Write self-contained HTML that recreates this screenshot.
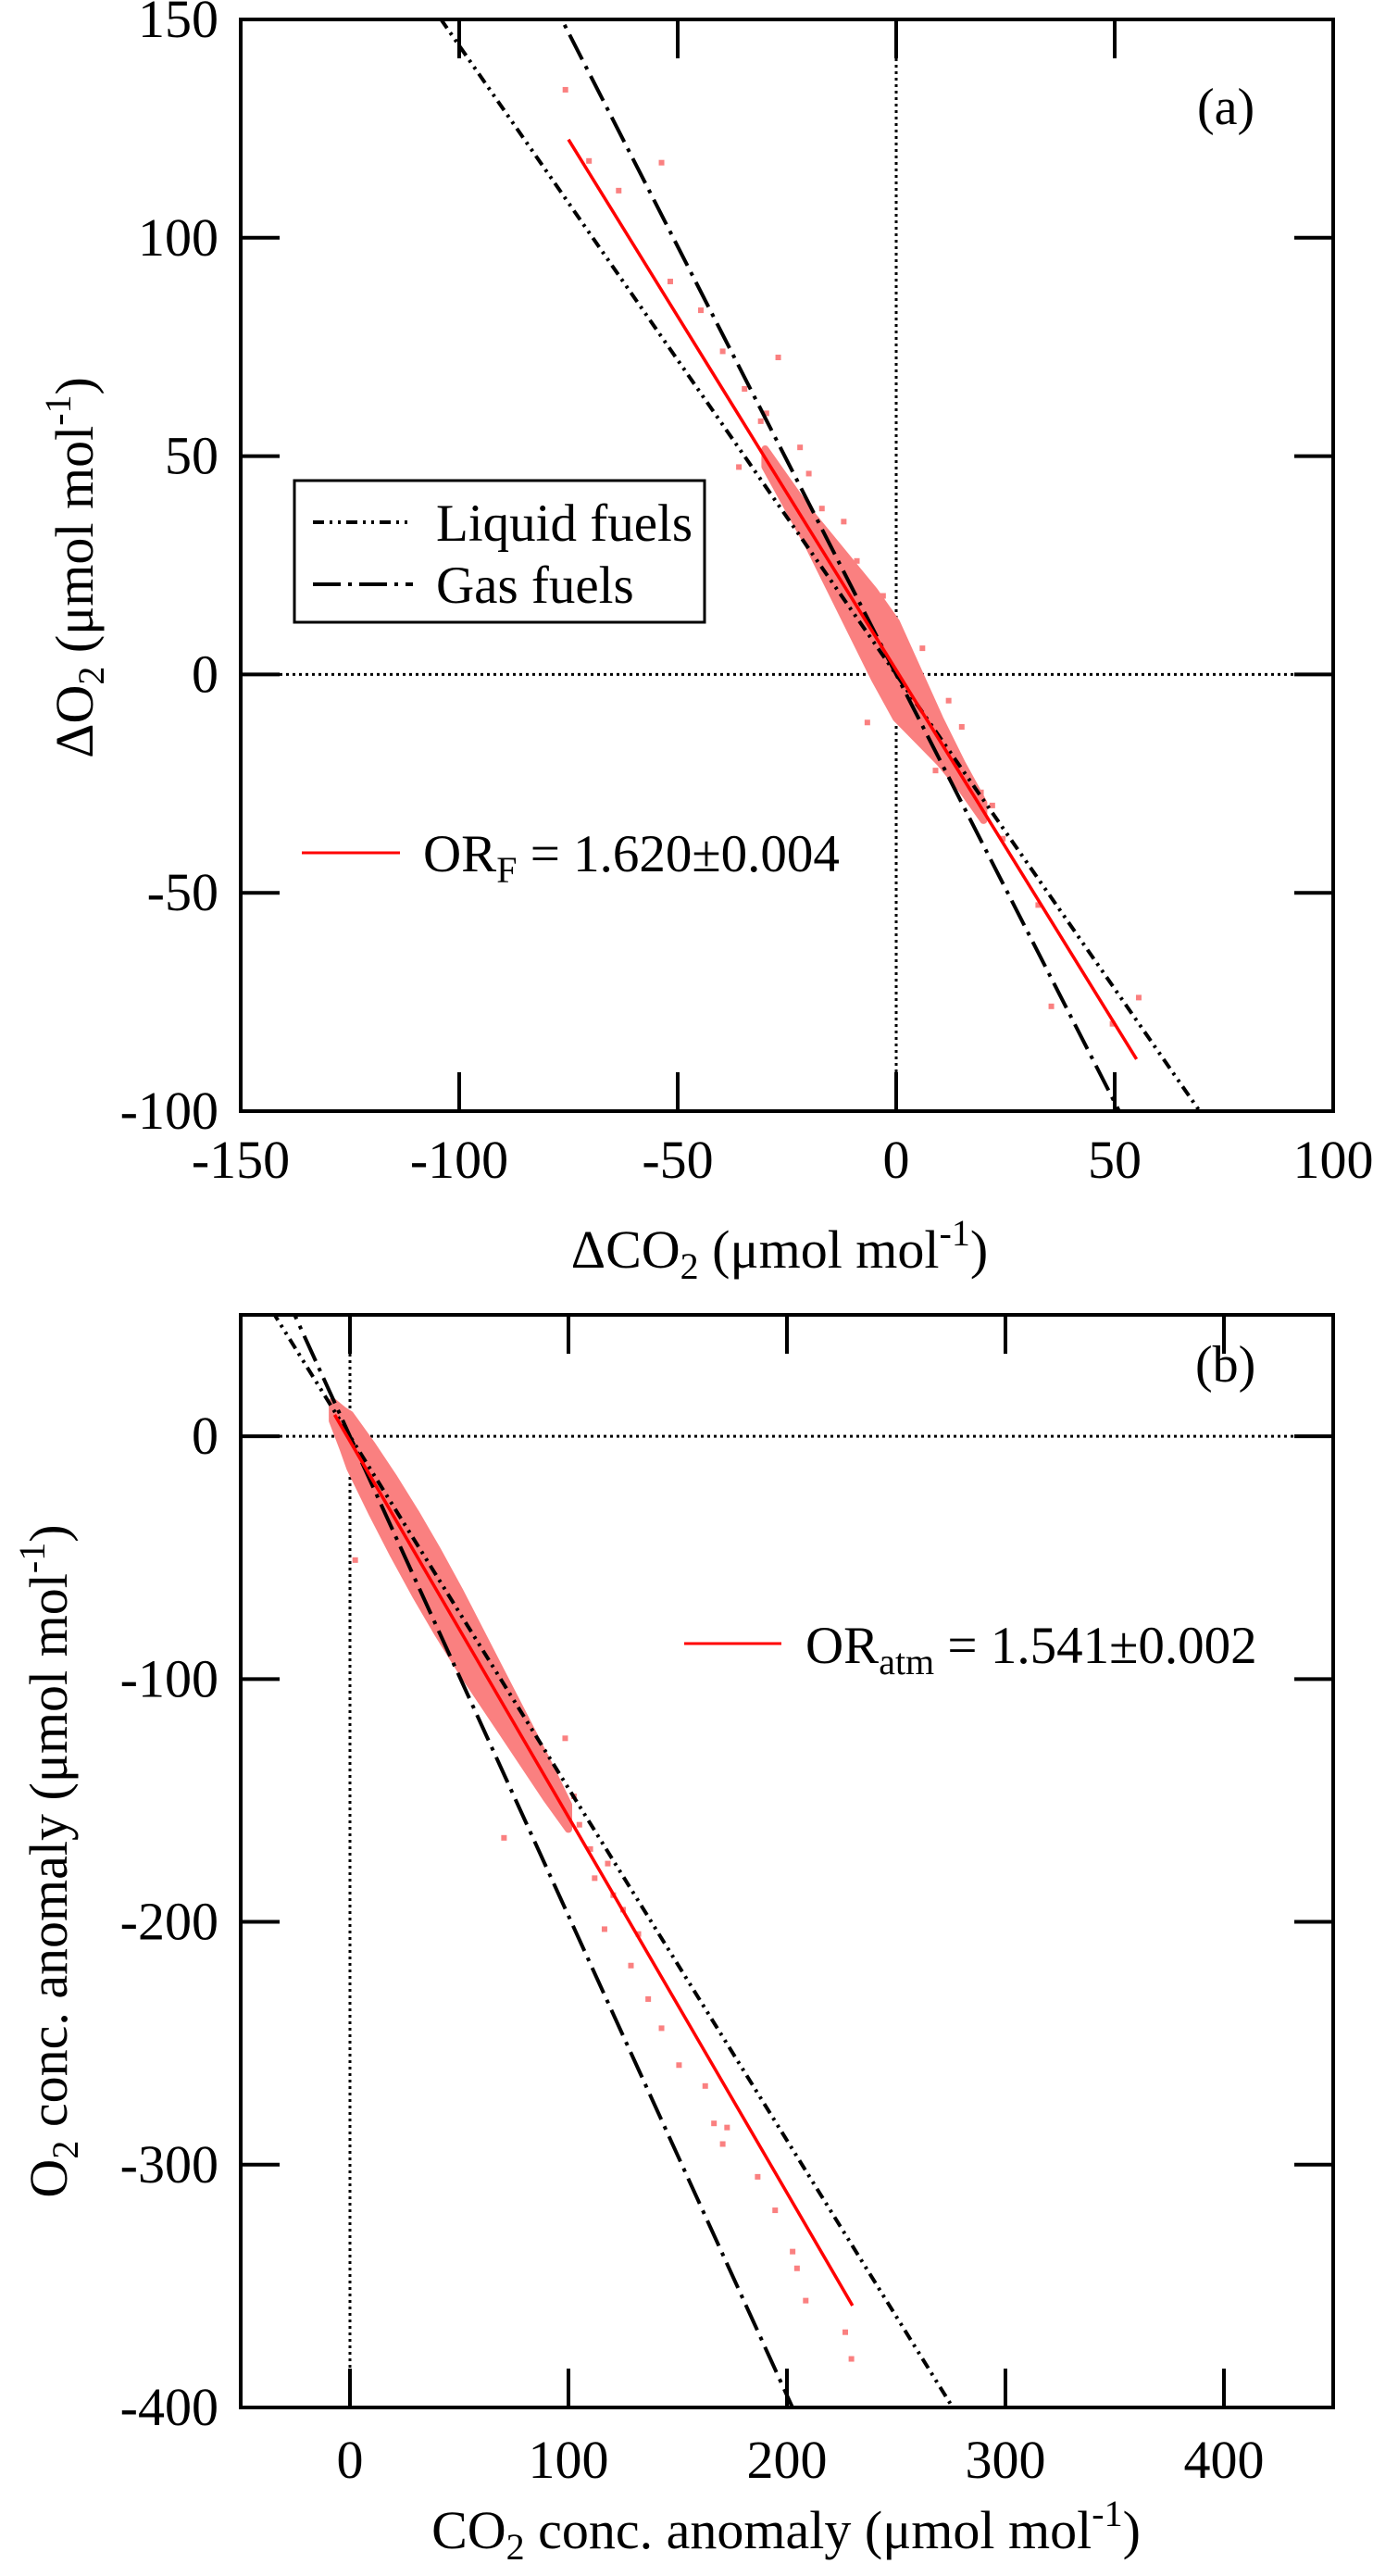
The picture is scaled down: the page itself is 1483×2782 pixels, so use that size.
<!DOCTYPE html>
<html><head><meta charset="utf-8">
<style>
html,body{margin:0;padding:0;background:#fff;overflow:hidden;width:1483px;height:2782px;}
svg{display:block;font-family:"Liberation Serif","DejaVu Serif","Noto Serif CJK SC",serif;}
svg text{font-family:"Liberation Serif","DejaVu Serif","Noto Serif CJK SC",serif;fill:#000;}
</style></head>
<body>
<svg id="fig" width="1483" height="2782" viewBox="0 0 1483 2782" xmlns="http://www.w3.org/2000/svg">
<defs>
<clipPath id="clipA"><rect x="260" y="21" width="1180" height="1179"/></clipPath>
<clipPath id="clipB"><rect x="260" y="1420" width="1180" height="1180"/></clipPath>
</defs>
<g id="panelA"></g>
<g id="panelB"></g>

<text x="1293" y="134" font-size="56">(a)</text>
<text x="842" y="1369" font-size="58" text-anchor="middle">ΔCO<tspan font-size="40" dy="12">2</tspan><tspan dy="-12">  (μmol mol</tspan><tspan font-size="40" dy="-24">-1</tspan><tspan dy="24">)</tspan></text>
<text transform="translate(100,613) rotate(-90)" font-size="58" text-anchor="middle">ΔO<tspan font-size="40" dy="12">2</tspan><tspan dy="-12">  (μmol mol</tspan><tspan font-size="40" dy="-24">-1</tspan><tspan dy="24">)</tspan></text>
<g>
<rect x="318" y="519" width="443" height="153" fill="#fff" stroke="#000" stroke-width="3"/>
<line x1="338" y1="564" x2="446" y2="564" stroke="#000" stroke-width="4" stroke-dasharray="12 6 3 6 3 6"/>
<text x="471" y="584" font-size="57">Liquid fuels</text>
<line x1="338" y1="631" x2="446" y2="631" stroke="#000" stroke-width="4" stroke-dasharray="30 8 4 8"/>
<text x="471" y="651" font-size="57">Gas fuels</text>
</g>
<g>
<line x1="326" y1="921" x2="432" y2="921" stroke="#f00" stroke-width="3"/>
<text x="457" y="941" font-size="57">OR<tspan font-size="40" dy="12">F</tspan><tspan dy="-12"> = 1.620±0.004</tspan></text>
</g>

<text x="1291" y="1492" font-size="56">(b)</text>
<text x="849" y="2752" font-size="58" text-anchor="middle">CO<tspan font-size="40" dy="12">2</tspan><tspan dy="-12"> conc. anomaly  (μmol mol</tspan><tspan font-size="40" dy="-24">-1</tspan><tspan dy="24">)</tspan></text>
<text transform="translate(72,2010) rotate(-90)" font-size="58" text-anchor="middle">O<tspan font-size="40" dy="12">2</tspan><tspan dy="-12"> conc. anomaly  (μmol mol</tspan><tspan font-size="40" dy="-24">-1</tspan><tspan dy="24">)</tspan></text>
<g>
<line x1="739" y1="1775" x2="844" y2="1775" stroke="#f00" stroke-width="3"/>
<text x="870" y="1796" font-size="57">OR<tspan font-size="40" dy="12">atm</tspan><tspan dy="-12"> = 1.541±0.002</tspan></text>
</g>
</svg>
<script>
// ---------- Panel A data ----------
const aXTicks = [-150, -100, -50, 0, 50, 100];
const aYTicks = [150, 100, 50, 0, -50, -100];
const aLiquidSlope = -1.44;
const aGasSlope = -1.96;
const aFitSlope = -1.62;
const aFitIntercept = 1;
const aFitRange = [-75, 55];
const aCloudX = [-30, -25, -20, -15, -10, -5, 0, 5, 10, 15, 20];
const aCloudHalf = [2, 3, 4, 6, 8, 10, 11, 8, 5, 3, 2];
const aOutX = [-75.7, -70.3, -53.7, -63.5, -51.7, -44.7, -39.7, -27, -34.7, -29.7, -36, 55.5, 49.5, 35.5, 32.5, 24.4, 19.4, -6.6, -24.6, -20, 6, 12, 15, 22, -12, -3, -17, -9, 9, 4, -31, -22];
const aOutY = [133.9, 117.6, 117.2, 110.8, 90, 83.4, 74, 72.6, 65.4, 59.8, 47.5, -74, -80, -76, -52.8, -37.6, -27, -11, 40.8, 46, 6, -6, -12, -30, 35, 18, 38, 26, -22, -4, 58, 52];

// ---------- Panel B data ----------
const bXTicks = [0, 100, 200, 300, 400];
const bYTicks = [0, -100, -200, -300, -400];
const bLiquidSlope = -1.45;
const bGasSlope = -1.975;
const bFitSlope = -1.548;
const bFitIntercept = -2;
const bFitRange = [-7, 230];
const bCloudX = [-8, -3, 0, 10, 20, 30, 40, 50, 60, 70, 80, 90, 100];
const bCloudHalf = [4, 8, 11, 14, 16, 17, 17, 16, 14, 12, 10, 8, 5];
const bOutX = [98.5, 102.5, 70.5, 120.5, 116.5, 128.6, 136.5, 142.6, 150.6, 162.6, 166.6, 172.6, 170.6, 186.6, 194.6, 202.6, 204.6, 208.6, 226.7, 229.5, 2.4, 110, 105, 125, 112, 95, 88, 132, 118];
const bOutY = [-124.4, -148.3, -165.4, -189, -203, -218, -231.8, -243.8, -259, -267.6, -283, -284.7, -291.5, -305, -318.8, -335.8, -342.7, -356, -369, -380, -51, -170, -160, -195, -182, -150, -140, -205, -176];

const NS = "http://www.w3.org/2000/svg";
function mk(tag, attrs, parent){const e=document.createElementNS(NS,tag);for(const k in attrs)e.setAttribute(k,attrs[k]);parent.appendChild(e);return e;}

function drawPanel(g, cfg){
  const {xs, ys, xmin, xmax, clip, xTicks, yTicks, liquid, gas, fitS, fitI, fitR, cx, ch, ox, oy, tag} = cfg;
  const L=260,R=1440,T=cfg.top,B=cfg.bottom;
  const plot = mk('g',{'clip-path':'url(#'+clip+')'},g);
  
  
  const hz = mk('line',{x1:L,x2:R,y1:ys(0),y2:ys(0),stroke:'#000','stroke-width':3,'stroke-dasharray':'3 4'},plot);
  
  
  const vz = mk('line',{x1:xs(0),x2:xs(0),y1:T,y2:B,stroke:'#000','stroke-width':3,'stroke-dasharray':'3 4'},plot);
  
  
  let pts=[];
  for(let i=0;i<cx.length;i++) pts.push(xs(cx[i])+','+ys(fitS*cx[i]+fitI+ch[i]));
  for(let i=cx.length-1;i>=0;i--) pts.push(xs(cx[i])+','+ys(fitS*cx[i]+fitI-ch[i]));
  const cloud = mk('polygon',{points:pts.join(' '),fill:'#fa8080',stroke:'#fa8080','stroke-width':8,'stroke-linejoin':'round'},plot);
  
  
  for(let i=0;i<ox.length;i++){
    const p = mk('rect',{x:xs(ox[i])-3,y:ys(oy[i])-3,width:6,height:6,fill:'#fa8080'},plot);
    
    
  }
  const lq = mk('line',{x1:xs(xmin),y1:ys(liquid*xmin),x2:xs(xmax),y2:ys(liquid*xmax),stroke:'#000','stroke-width':4,'stroke-dasharray':'12 6 3 6 3 6'},plot);
  
  
  const gs = mk('line',{x1:xs(xmin),y1:ys(gas*xmin),x2:xs(xmax),y2:ys(gas*xmax),stroke:'#000','stroke-width':4,'stroke-dasharray':'30 8 4 8'},plot);
  
  
  const ft = mk('line',{x1:xs(fitR[0]),y1:ys(fitS*fitR[0]+fitI),x2:xs(fitR[1]),y2:ys(fitS*fitR[1]+fitI),stroke:'#f00','stroke-width':3.5},plot);
  
  
  const fr = mk('rect',{x:L,y:T,width:R-L,height:B-T,fill:'none',stroke:'#000','stroke-width':4},g);
  
  
  xTicks.forEach(v=>{
    const x=xs(v);
    if(x>L+2&&x<R-2){
      mk('line',{x1:x,x2:x,y1:B,y2:B-42,stroke:'#000','stroke-width':4},g);
      mk('line',{x1:x,x2:x,y1:T,y2:T+42,stroke:'#000','stroke-width':4},g);
    }
    const t = mk('text',{x:x,y:cfg.xLabY,'font-size':58,'text-anchor':'middle'},g);
    t.textContent = String(v);
    
    
  });
  yTicks.forEach(v=>{
    const y=ys(v);
    if(y>T+2&&y<B-2){
      mk('line',{x1:L,x2:L+42,y1:y,y2:y,stroke:'#000','stroke-width':4},g);
      mk('line',{x1:R,x2:R-42,y1:y,y2:y,stroke:'#000','stroke-width':4},g);
    }
    const t = mk('text',{x:236,y:y+19,'font-size':58,'text-anchor':'end'},g);
    t.textContent = String(v);
    
    
  });
}

const xsA = v => 260 + (v + 150) * 4.72;
const ysA = v => 21 + (150 - v) * 4.716;
const xsB = v => 260 + (v + 50) * 2.36;
const ysB = v => 1420 + (50 - v) * 2.6222;

drawPanel(document.getElementById('panelA'), {xs:xsA, ys:ysA, xmin:-200, xmax:200, clip:'clipA', top:21, bottom:1200,
  xTicks:aXTicks, yTicks:aYTicks, liquid:aLiquidSlope, gas:aGasSlope, fitS:aFitSlope, fitI:aFitIntercept, fitR:aFitRange,
  cx:aCloudX, ch:aCloudHalf, ox:aOutX, oy:aOutY, tag:'a', xLabY:1272});
drawPanel(document.getElementById('panelB'), {xs:xsB, ys:ysB, xmin:-100, xmax:500, clip:'clipB', top:1420, bottom:2600,
  xTicks:bXTicks, yTicks:bYTicks, liquid:bLiquidSlope, gas:bGasSlope, fitS:bFitSlope, fitI:bFitIntercept, fitR:bFitRange,
  cx:bCloudX, ch:bCloudHalf, ox:bOutX, oy:bOutY, tag:'b', xLabY:2676});
</script>
</body></html>
